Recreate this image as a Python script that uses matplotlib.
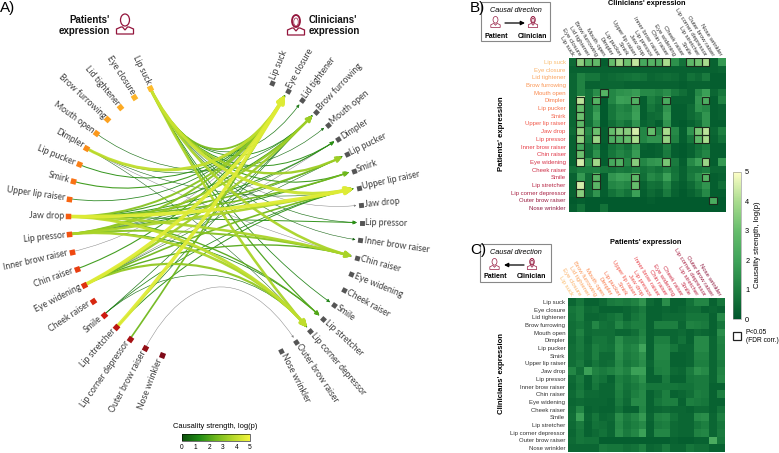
import numpy as np
import matplotlib
matplotlib.use("Agg")
import matplotlib.pyplot as plt
from matplotlib.colors import LinearSegmentedColormap, Normalize
from matplotlib.cm import ScalarMappable
from matplotlib.path import Path
from matplotlib.patches import FancyArrowPatch, PathPatch, Ellipse, Rectangle

plt.rcParams["font.family"] = ["Liberation Sans", "DejaVu Sans"]

W, H = 779, 453

expressions = ["Lip suck", "Eye closure", "Lid tightener", "Brow furrowing", "Mouth open",
               "Dimpler", "Lip pucker", "Smirk", "Upper lip raiser", "Jaw drop",
               "Lip pressor", "Inner brow raiser", "Chin raiser", "Eye widening", "Cheek raiser",
               "Smile", "Lip stretcher", "Lip corner depressor", "Outer brow raiser", "Nose wrinkler"]

# patient -> clinician, log(p)
patient_to_clinician = [
    [.5, 3.6, 2.7, 2.9, .2, 3.0, 3.9, 3.1, 4.3, 2.2, 2.6, 2.5, 4.0, 1.5, .7, 2.8, 3.2, 4.0, .3, 1.7],
    [.3, .3, .3, .3, .3, .3, .3, .3, .3, .3, .3, .3, .3, .3, .3, .3, .3, .3, .3, .4],
    [.4, 1.1, .8, .8, .4, .5, .6, .7, .8, .7, .4, .5, .6, .5, .3, .7, .5, .9, .2, .2],
    [.4, 1.1, .3, .3, .4, .4, .4, .3, .3, .3, .3, .3, .3, .3, .2, .3, .3, .3, .2, .2],
    [.4, 1.1, .7, 1.4, 2.6, 1.2, 1.5, 1.6, 1.8, 1.3, 1.3, 1.1, 1.4, .9, .6, .3, 1.3, 1.9, .4, .8],
    [.4, 4.2, .7, 2.6, .1, 1.2, 1.9, 1.8, 2.5, .2, 1.0, .7, 2.3, .3, .3, .3, 1.6, 2.4, .2, 1.1],
    [.4, 3.0, .7, 1.6, .1, .8, 1.2, 1.0, 1.8, .2, .8, .5, 1.6, .2, .2, .5, 1.5, 1.3, .2, .3],
    [.4, 3.1, .7, 1.9, .1, .8, 1.3, 1.2, 1.9, .2, .5, .6, 1.8, .2, .2, .5, .8, 1.6, .2, .3],
    [.4, 2.8, .6, 1.6, .1, .6, 1.0, .7, 1.6, .3, .5, .2, 1.6, .2, .1, .3, .6, 1.6, .2, .2],
    [.5, 3.7, 1.3, 3.1, .2, 3.0, 3.5, 3.5, 4.5, 1.2, 3.0, 1.3, 4.0, 1.3, .2, 1.6, 3.3, 4.2, .4, 1.0],
    [.3, 3.7, 1.0, 3.8, .2, 2.4, 2.6, 3.0, 4.0, 1.2, 1.6, 1.6, 3.7, 1.1, .2, .8, 2.8, 4.0, .3, .7],
    [.3, 2.1, .6, 1.2, .1, .7, 1.0, .7, 1.6, .3, .2, .3, 1.0, .2, .1, .3, .7, 1.0, .2, .2],
    [.3, 3.1, .5, 1.5, .2, .8, 1.2, .9, 1.8, .2, .2, .3, .9, .2, .1, .3, .8, 1.2, .2, .2],
    [.3, 4.5, 1.5, 3.9, .2, 2.2, 2.5, 1.3, 3.5, 1.2, 1.6, 1.7, 3.3, .9, .2, 1.3, 1.9, 3.8, .2, 1.7],
    [.7, 1.0, 1.0, 1.1, .8, .7, .9, .8, 1.1, .7, .9, .7, 1.1, .7, .3, .8, .8, 1.0, .4, .4],
    [.3, 1.7, .6, 2.7, .2, 1.6, 1.9, 1.8, 2.8, .6, 1.3, 1.0, 1.9, .8, .3, .9, 1.4, 2.6, .2, .3],
    [.3, 4.5, .6, 2.7, .2, 1.2, 1.4, 1.2, 3.0, .3, .7, .6, 1.2, .4, .2, .5, 1.0, 1.6, .2, .6],
    [.3, 3.5, .6, 1.6, .2, .7, 1.0, .7, 1.9, .2, .5, .3, .9, .3, .1, .3, .6, 1.3, .2, .2],
    [.1, .2, .1, .1, .1, .1, .1, .1, .1, .1, .2, .1, .1, .1, .1, .1, .1, .1, 2.3, .1],
    [.2, .7, .1, .1, .7, .1, .1, .1, .1, .1, .1, .1, .1, .1, .1, .1, .1, .1, .1, .1],
]

# clinician -> patient, log(p)
clinician_to_patient = [
    [.4, .8, .3, .3, .5, .9, 1.0, .9, 1.1, 1.6, .5, .3, 1.4, .3, .3, .7, 1.2, 1.2, .3, .8],
    [.8, 1.0, .5, .6, .3, .3, .3, .4, .6, .9, .3, .3, .4, .3, .4, .6, .6, .3, .4, .3],
    [.7, 1.0, .4, .4, .5, .7, .9, .4, .8, 1.0, .3, .3, .5, .5, .5, .8, .8, .8, .3, 1.3],
    [.6, .8, .5, 1.2, .7, .6, 1.2, .8, 1.0, 1.0, .3, 1.0, 1.0, 1.0, .4, 1.1, 1.0, .9, .3, .8],
    [.6, 1.1, .5, .6, .6, .6, .4, .4, .6, 1.1, .3, .4, .4, .4, .5, .3, .5, .4, .3, 1.4],
    [.5, .9, .4, .8, .8, .6, 1.4, .9, .9, 1.3, .3, 1.0, 1.0, .4, .7, .3, 1.3, 1.3, .4, 1.1],
    [.6, .9, .5, 1.0, .8, .7, 1.5, 1.0, 1.2, 2.0, .3, 1.2, 1.2, .8, .4, .4, 1.3, 1.3, .4, 1.0],
    [.6, .8, .5, 1.0, .5, .5, 1.4, .9, 1.1, 1.5, .3, 1.2, 1.2, .3, .3, .4, 1.1, 1.1, .4, 1.0],
    [.6, .9, .4, .8, .5, .6, 1.3, .8, 1.0, 1.4, .4, 1.1, 1.1, .3, .3, .4, 1.0, 1.0, .4, .9],
    [1.2, .6, 1.9, 1.1, .9, 1.1, 1.4, 1.1, 1.9, 1.9, .3, 1.0, 1.1, .5, .4, .9, 1.5, 1.3, .4, 1.1],
    [.5, .9, .3, .9, .7, .3, 1.0, .8, 1.1, 1.5, .3, .3, .9, .3, .3, .8, .9, .9, .4, 1.2],
    [.4, .8, .3, .8, .4, .4, 1.1, .7, .9, 1.2, .8, .8, .8, .8, .7, .7, .9, .9, .3, .3],
    [.5, .9, .5, .5, .4, .4, 1.0, .6, 1.0, 1.3, .3, .6, 1.0, .3, .4, .6, 1.0, .9, .3, 1.0],
    [.4, .5, .4, .4, .4, .3, .9, .5, 1.3, 1.3, .3, .8, 1.0, 1.0, .3, 1.0, .9, .8, .3, .3],
    [.5, 1.2, .3, .4, .3, .3, .7, .3, .3, 1.2, .3, .4, .5, .4, .4, .3, .5, .5, .3, .7],
    [.6, 1.9, .4, .8, .4, .5, 1.4, .9, 1.2, 1.7, .4, 1.1, 1.2, .7, .4, .4, 1.3, 1.4, .4, 1.0],
    [.5, .9, .3, .7, .6, .4, 1.3, .8, 1.0, 1.3, .3, .9, 1.0, .5, .4, .4, .8, 1.0, .4, .8],
    [.4, .8, .3, .5, .7, .4, 1.4, .9, 1.2, 1.9, .3, 1.2, 1.2, .5, .4, .4, 1.1, 1.2, .4, .9],
    [.5, .8, .7, .7, .2, .2, .2, .2, .2, .2, .2, .2, .2, .3, .2, .2, .3, .3, 2.3, .8],
    [.4, .4, .4, .4, .9, .8, .8, .6, .7, 1.0, .4, .5, .9, .4, .4, .8, .6, .6, .3, .3],
]

# significant cells (P<0.05, FDR corr.), patient row -> clinician columns
significant = {
    0: [1, 2, 3, 5, 6, 7, 8, 9, 10, 11, 12, 15, 16, 17],
    4: [4],
    5: [1, 3, 8, 12, 17],
    6: [1],
    7: [1],
    8: [1],
    9: [1, 3, 5, 6, 7, 8, 10, 12, 16, 17],
    10: [1, 3, 5, 6, 7, 8, 12, 16, 17],
    11: [1],
    12: [1],
    13: [1, 3, 5, 6, 8, 12, 17],
    15: [3, 8, 17],
    16: [1, 3, 8],
    17: [1],
    18: [18],
}

heat_cmap = LinearSegmentedColormap.from_list(
    "heat", ["#00562c", "#1d7f40", "#3fa45a", "#66bd6c", "#a9dc8e", "#ffffc8"])
edge_cmap = LinearSegmentedColormap.from_list(
    "edge", ["#0b4f0b", "#1f8a14", "#6fb81c", "#b5d92a", "#f4f53c"])
node_cmap = LinearSegmentedColormap.from_list(
    "nodes", ["#fdbb2d", "#fb9a1c", "#f96a12", "#ee4410", "#cc1a10", "#7f0a18"])
text_cmap = LinearSegmentedColormap.from_list(
    "texts", ["#fbbf73", "#fb8d4f", "#f25f4d", "#e63a48", "#c22a47", "#8e1c42"])
node_colors = [node_cmap(i / 19) for i in range(20)]
text_colors = [text_cmap(i / 19) for i in range(20)]
maroon = "#93153c"

fig = plt.figure(figsize=(W / 100, H / 100), dpi=100)
ax = fig.add_axes([0, 0, 1, 1])
ax.set_xlim(0, W)
ax.set_ylim(H, 0)
ax.axis("off")


def rect_axes(x0, y0, x1, y1):
    return fig.add_axes([x0 / W, 1 - y1 / H, (x1 - x0) / W, (y1 - y0) / H])


def person(cx, cy, s=1.0, doctor=False):
    if doctor:
        ax.add_patch(Ellipse((cx, cy - 4 * s), 8 * s, 12 * s, fc="none", ec=maroon, lw=1.3 * s))
        ax.add_patch(Ellipse((cx, cy - 3 * s), 4.5 * s, 8 * s, fc="white", ec=maroon, lw=.5))
    else:
        ax.add_patch(Ellipse((cx, cy - 4 * s), 9 * s, 12 * s, fc="none", ec=maroon, lw=.9 * s))
    verts = [(cx - 8.5 * s, cy + 10 * s), (cx - 8.5 * s, cy + 5 * s), (cx - 4 * s, cy + 3 * s),
             (cx - 2.5 * s, cy + 3 * s), (cx, cy + 6 * s), (cx + 2.5 * s, cy + 3 * s),
             (cx + 4 * s, cy + 3 * s), (cx + 8.5 * s, cy + 5 * s), (cx + 8.5 * s, cy + 10 * s)]
    ax.add_patch(PathPatch(Path(verts + [verts[0]], closed=True), fc="none", ec=maroon, lw=.9 * s))


# --- panel A, two half circles of nodes ---
cx, cy = 214, 219
ang_left = np.radians(np.linspace(64, -69, 20))
ang_right = np.radians(np.linspace(67, -63, 20))
left_x = cx - 146 * np.cos(ang_left)
left_y = cy - 146 * np.sin(ang_left)
right_x = cx + 148 * np.cos(ang_right)
right_y = cy - 148 * np.sin(ang_right)

edges = [(c, r) for r in significant for c in significant[r]]
values = np.array(patient_to_clinician)
edges = sorted(edges, key=lambda e: values[e[1], e[0]])
k = 0.6
for col, row in edges:
    v = values[row, col]
    x0, y0 = left_x[row], left_y[row]
    # stop the arrow just in front of the node
    x1 = cx + 143 * np.cos(ang_right[col])
    y1 = cy - 143 * np.sin(ang_right[col])
    t = np.clip((v - 2.3) / 2.4, 0, 1)
    lw = 0.35 + 2.6 * t ** 1.6
    verts = [(x0, y0), (x0 + k * (cx - x0), y0 + k * (cy - y0)),
             (x1 + k * (cx - x1), y1 + k * (cy - y1)), (x1, y1)]
    path = Path(verts, [Path.MOVETO, Path.CURVE4, Path.CURVE4, Path.CURVE4])
    color = edge_cmap(t)
    arrow = FancyArrowPatch(path=path, arrowstyle="-|>", mutation_scale=3 + 8 * t,
                            lw=lw, color="#808080" if v < 2.4 else color,
                            zorder=2 + t, alpha=.95)
    ax.add_patch(arrow)

for i, name in enumerate(expressions):
    deg = np.degrees(ang_left[i])
    ax.plot(left_x[i], left_y[i], marker=(4, 0, 45 - deg), ms=5.6, color=node_colors[i], mec="none", zorder=5)
    ax.text(left_x[i] - 3.8 * np.cos(ang_left[i]), left_y[i] - 3.8 * np.sin(ang_left[i]), name,
            rotation=-deg, rotation_mode="anchor", ha="right", va="center",
            fontsize=6.3, family="Lato", color="#3d3d3d")
    deg = np.degrees(ang_right[i])
    ax.plot(right_x[i], right_y[i], marker=(4, 0, 45 + deg), ms=5, color="#555555", mec="none", zorder=5)
    ax.text(right_x[i] + 3.5 * np.cos(ang_right[i]), right_y[i] - 3.5 * np.sin(ang_right[i]), name,
            rotation=deg, rotation_mode="anchor", ha="left", va="center",
            fontsize=6.3, family="Lato", color="#3d3d3d")

ax.text(0, 8, "A)", fontsize=11, va="center")
ax.text(470, 8, "B)", fontsize=11, va="center")
ax.text(470, 250, "C)", fontsize=11, va="center")

ax.text(110, 25.5, "Patients'\nexpression", fontsize=7, fontweight="bold", ha="right", va="center",
        linespacing=1.15, color="#111111")
ax.text(309, 25.5, "Clinicians'\nexpression", fontsize=7, fontweight="bold", ha="left", va="center",
        linespacing=1.15, color="#111111")
person(125, 24, 1.0)
person(296, 25, 1.0, doctor=True)

cax = rect_axes(182, 434, 250, 441)
cb = fig.colorbar(ScalarMappable(Normalize(0, 5), edge_cmap), cax=cax, orientation="horizontal")
cb.set_ticks(range(6))
cb.ax.tick_params(labelsize=4.8, length=0, pad=2.5)
cb.outline.set_linewidth(.4)
ax.text(215, 427, "Causality strength, log(p)", fontsize=5.4, ha="center", va="center")


# --- panels B and C ---
def heatmap(box, data, row_cols, col_cols, title, title_x, title_y, ylab, ylab_x, sig=None):
    a = rect_axes(*box)
    a.imshow(np.array(data), cmap=heat_cmap, vmin=0, vmax=5, aspect="auto", interpolation="nearest")
    a.set_xticks(range(20))
    a.set_yticks(range(20))
    a.xaxis.tick_top()
    a.set_xticklabels(expressions, rotation=-58, ha="right", rotation_mode="anchor", va="center", fontsize=4.3)
    a.set_yticklabels(expressions, fontsize=4.3)
    a.tick_params(length=0, pad=2)
    for t, c in zip(a.get_xticklabels(), col_cols):
        t.set_color(c)
    for t, c in zip(a.get_yticklabels(), row_cols):
        t.set_color(c)
    for s in a.spines.values():
        s.set_visible(False)
    if sig:
        for r in sig:
            for c in sig[r]:
                a.add_patch(Rectangle((c - .5, r - .5), 1, 1, fc="none", ec="#1c2a1c", lw=.8))
    ax.text(title_x, title_y, title, fontsize=5.3, fontweight="bold", ha="center", va="center")
    ax.text(ylab_x, (box[1] + box[3]) / 2 - 1, ylab, fontsize=5.6, fontweight="bold", rotation=90,
            ha="center", va="center")


dark = ["#333333"] * 20
heatmap((568.5, 58, 725, 212), patient_to_clinician, text_colors, dark,
        "Clinicians' expression", 647, 3.8, "Patients' expression", 502, significant)
heatmap((568, 298, 724, 452), clinician_to_patient, dark, text_colors,
        "Patients' expression", 646, 243, "Clinicians' expression", 502)


def causal_box(x0, y0, x1, y1, forward):
    ax.add_patch(Rectangle((x0, y0), x1 - x0, y1 - y0, fc="white", ec="#888888", lw=.8))
    ax.text((x0 + x1) / 2, y0 + 8, "Causal direction", fontsize=5.2, style="italic", ha="center", va="center")
    ym = y0 + 20
    person(x0 + 14.5, ym, .55)
    person(x0 + 52, ym, .55, doctor=True)
    a, b = (x0 + 24, x0 + 44) if forward else (x0 + 44, x0 + 24)
    ax.annotate("", xy=(b, ym + 1), xytext=(a, ym + 1),
                arrowprops=dict(arrowstyle="-|>", color="black", lw=.9, mutation_scale=6, shrinkA=0, shrinkB=0))
    ax.text(x0 + 15, y1 - 5, "Patient", fontsize=5, fontweight="bold", ha="center", va="center")
    ax.text(x0 + 52, y1 - 5, "Clinician", fontsize=5, fontweight="bold", ha="center", va="center")


causal_box(481, 2, 550, 41, True)
causal_box(480, 244, 551, 282, False)

bar = rect_axes(733, 172, 741, 319)
cb2 = fig.colorbar(ScalarMappable(Normalize(0, 5), heat_cmap), cax=bar)
cb2.set_ticks(range(6))
cb2.ax.tick_params(labelsize=5.3, length=0, pad=3)
cb2.outline.set_linewidth(.4)
cb2.outline.set_edgecolor("#888888")
ax.text(758, 245, "Causality strength, log(p)", fontsize=5.6, rotation=90, ha="center", va="center")

ax.add_patch(Rectangle((733, 332), 8, 8, fc="white", ec="#222222", lw=.9))
ax.text(746, 337, "P<0.05\n(FDR corr.)", fontsize=4.8, ha="left", va="center", linespacing=1.2)

fig.savefig("out.png", dpi=100)
